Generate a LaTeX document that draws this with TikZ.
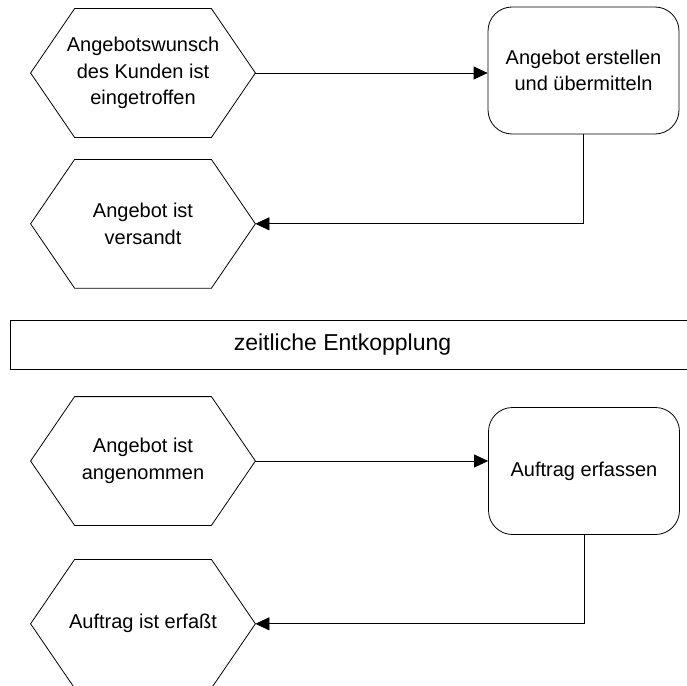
\documentclass[tikz,border=0pt]{standalone}
\usepackage{fontspec}
\setmainfont{Liberation Sans}
\usetikzlibrary{%
  arrows.meta,%
  positioning% wg. " of "
}
\newcommand{\epkfont}{\fontsize{20}{26.7}\selectfont}

\begin{document}
\begin{tikzpicture}[
    x=1pt,y=-1pt,
    >={Triangle[length=14pt,width=13pt]},
    line width=0.8pt,
    ereignis/.style={rectangle,minimum width=224pt,minimum height=128pt,
        inner sep=0pt,align=center,font=\epkfont},
    funktion/.style={rectangle,draw,rounded corners=24pt,minimum width=191pt,
        minimum height=127pt,align=center,font=\epkfont},
    trenner/.style={rectangle,minimum height=48pt,
        font=\fontsize{23}{28}\selectfont},
    node distance=22pt
  ]
    \useasboundingbox (0,0) rectangle (687,685);

    % Angebot
    \node[ereignis] (wunsch) at (143,73) {Angebotswunsch\\des Kunden ist\\eingetroffen};
    \node[funktion] (erstellen) at (583.5,70.5) {Angebot erstellen\\und übermitteln};
    \node[ereignis,below=of wunsch] (versandt) {Angebot ist\\versandt};

    \node[trenner,minimum width=664pt] (entkopplung) at (342.5,345) {zeitliche Entkopplung};
    \draw[line width=1.2pt] (entkopplung.north west) rectangle ([xshift=30pt]entkopplung.south east);

    % Auftrag
    \node[ereignis] (angenommen) at (143,461) {Angebot ist\\angenommen};
    \node[funktion] (erfassen) at (584,471) {Auftrag erfassen};
    \node[ereignis,below=34pt of angenommen] (erfasst) {Auftrag ist erfaßt};

    % Sechsecke
    \foreach \n in {wunsch,versandt,angenommen,erfasst}
        \draw (\n.west) -- ([xshift=44pt]\n.north west) -- ([xshift=-44pt]\n.north east)
            -- (\n.east) -- ([xshift=-44pt]\n.south east) -- ([xshift=44pt]\n.south west) -- cycle;

    \draw[->] (wunsch) -- (wunsch -| erstellen.west);
    \draw[->] (erstellen) |- (versandt);
    \draw[->] (angenommen) -- (angenommen -| erfassen.west);
    \draw[->] (erfassen) |- (erfasst);
\end{tikzpicture}
\end{document}
